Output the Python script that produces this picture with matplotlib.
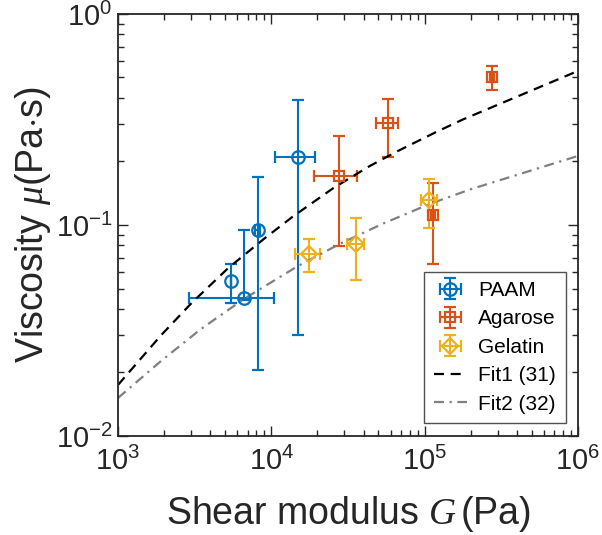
import matplotlib
matplotlib.use("Agg")
import matplotlib.pyplot as plt
import numpy as np

plt.rcParams['font.family'] = ['Liberation Sans', 'DejaVu Sans']
plt.rcParams['mathtext.fontset'] = 'custom'
plt.rcParams['mathtext.rm'] = 'Liberation Sans'
plt.rcParams['mathtext.it'] = 'Liberation Serif:italic'
plt.rcParams['mathtext.default'] = 'it'

# ---- data ----
paam_G = [5460, 6670, 8150, 14860]
paam_G_lo = [0, 3760, 300, 4340]
paam_G_hi = [0, 3750, 300, 4340]
paam_mu = [0.0543, 0.0453, 0.0944, 0.211]
paam_mu_lo = [0.0116, 0.001, 0.0738, 0.181]
paam_mu_hi = [0.0110, 0.0494, 0.0736, 0.180]

agar_G = [27540, 57400, 114000, 276700]
agar_G_lo = [8540, 9200, 3500, 8000]
agar_G_hi = [8520, 10000, 3500, 8000]
agar_mu = [0.171, 0.303, 0.1115, 0.501]
agar_mu_lo = [0.0912, 0.093, 0.0464, 0.065]
agar_mu_hi = [0.093, 0.091, 0.0465, 0.066]

gel_G = [17620, 35560, 106900]
gel_G_lo = [3330, 4510, 12400]
gel_G_hi = [3180, 4710, 14100]
gel_mu = [0.0729, 0.0815, 0.1314]
gel_mu_lo = [0.0132, 0.0266, 0.0343]
gel_mu_hi = [0.0127, 0.0265, 0.0346]

fit1_G = [1000, 1917, 3008, 5217, 9056, 13915, 25380, 44030, 65770, 119930, 178800, 1000000]
fit1_mu = [0.01746, 0.03011, 0.04256, 0.06234, 0.08650, 0.1100, 0.1495, 0.1905, 0.2227, 0.2765, 0.3167, 0.5366]

fit2_G = [1000, 1908, 3478, 6636, 14720, 28070, 53530, 108400, 197800, 1000000]
fit2_mu = [0.01514, 0.02267, 0.03215, 0.04464, 0.06352, 0.08144, 0.1015, 0.1259, 0.1473, 0.2123]

labels = ['PAAM', 'Agarose', 'Gelatin', 'Fit1 (31)', 'Fit2 (32)']
colors = ['#0072BD', '#D95319', '#EDB120']
TXT = '#262626'

fig = plt.figure(figsize=(6.02, 5.35), dpi=100)
ax = fig.add_axes([0.196, 0.185, 0.764, 0.789])

ekw = dict(linestyle='none', elinewidth=1.5, capsize=4.5, capthick=1.5,
           mfc='none', mew=1.6)
h1 = ax.errorbar(paam_G, paam_mu, xerr=[paam_G_lo, paam_G_hi], yerr=[paam_mu_lo, paam_mu_hi],
                 marker='o', ms=9, color=colors[0], label=labels[0], **ekw)
h2 = ax.errorbar(agar_G, agar_mu, xerr=[agar_G_lo, agar_G_hi], yerr=[agar_mu_lo, agar_mu_hi],
                 marker='s', ms=6.5, color=colors[1], label=labels[1], **ekw)
h3 = ax.errorbar(gel_G, gel_mu, xerr=[gel_G_lo, gel_G_hi], yerr=[gel_mu_lo, gel_mu_hi],
                 marker='D', ms=8, color=colors[2], label=labels[2], **ekw)
h4, = ax.plot(fit1_G, fit1_mu, color='black', lw=1.6, dashes=(4.5, 3), label=labels[3])
h5, = ax.plot(fit2_G, fit2_mu, color='#808080', lw=1.6, dashes=(4.5, 2.5, 1, 2.5), label=labels[4])

ax.set_xscale('log')
ax.set_yscale('log')
ax.set_xlim(1e3, 1e6)
ax.set_ylim(1e-2, 1e0)

ax.tick_params(which='both', direction='in', top=True, right=True, labelsize=21,
               color=TXT, labelcolor=TXT, width=1.0)
ax.tick_params(which='major', length=7)
ax.tick_params(which='minor', length=4)
ax.tick_params(axis='x', which='major', pad=8)
ax.tick_params(axis='y', which='major', pad=4)
for s in ax.spines.values():
    s.set_linewidth(1.3)
    s.set_color(TXT)

ax.set_xlabel(r'Shear modulus $G\,$(Pa)', fontsize=27, color=TXT, labelpad=13)
ax.set_ylabel(r'Viscosity $\mu$(Pa$\mathrm{\cdot}$s)', fontsize=27, color=TXT, labelpad=2)

leg = ax.legend([h1, h2, h3, h4, h5], labels,
                loc='lower right', bbox_to_anchor=(0.973, 0.031), borderaxespad=0,
                fontsize=15, frameon=True, fancybox=False, edgecolor=TXT,
                handlelength=1.6, handletextpad=0.55, labelspacing=0.45, borderpad=0.45)
leg.get_frame().set_linewidth(1.0)

fig.savefig('out.png', dpi=100)
